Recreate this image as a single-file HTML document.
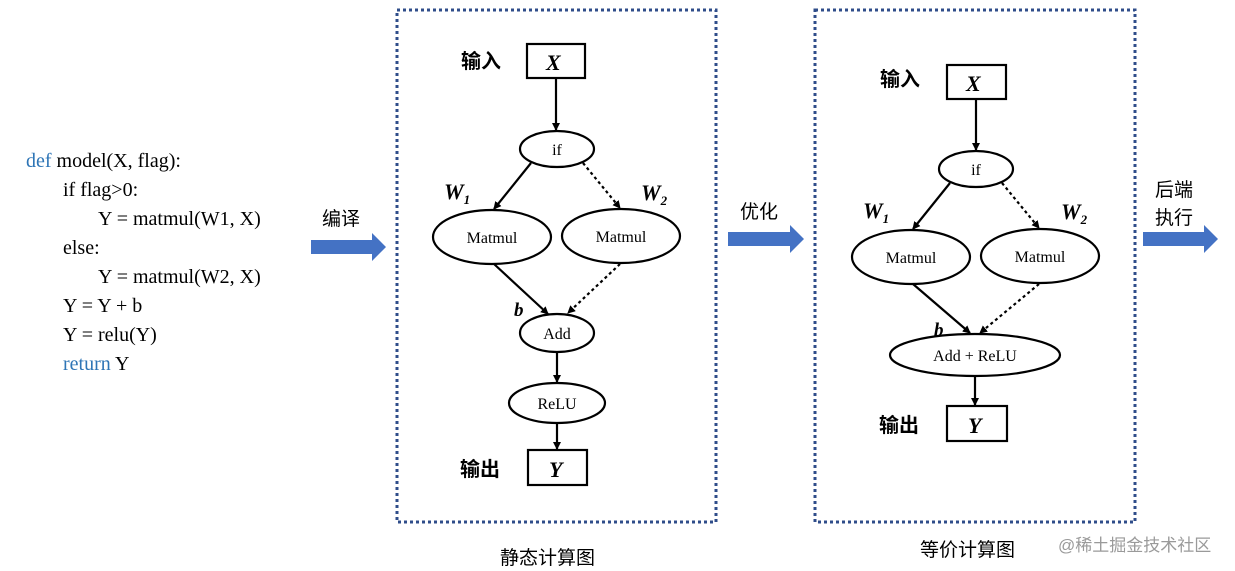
<!DOCTYPE html>
<html><head><meta charset="utf-8"><style>
html,body{margin:0;padding:0;background:#fff;}
svg{display:block;}
.c{font-family:"Liberation Serif",serif;font-size:20px;fill:#000;}
.k{fill:#2e75b6;}
.zh{font-family:"Liberation Sans","Noto Sans CJK SC",sans-serif;font-size:20px;font-weight:bold;fill:#000;}
.zn{font-family:"Liberation Sans","Noto Sans CJK SC",sans-serif;font-size:19px;fill:#000;}
.n{font-family:"Liberation Serif",serif;font-size:16px;fill:#000;text-anchor:middle;}
.w{font-family:"Liberation Serif",serif;font-size:22px;font-weight:bold;font-style:italic;fill:#000;}
.s{font-family:"Liberation Serif",serif;font-size:13px;font-weight:bold;font-style:italic;}
</style></head><body>
<svg width="1235" height="571" viewBox="0 0 1235 571" xmlns="http://www.w3.org/2000/svg">
<defs>
<marker id="a" markerWidth="8" markerHeight="8" refX="7" refY="4" orient="auto" markerUnits="userSpaceOnUse"><path d="M0,0 L8,4 L0,8 z" fill="#000"/></marker>
</defs>
<!-- code -->
<text class="c" x="26" y="167"><tspan class="k">def</tspan> model(X, flag):</text>
<text class="c" x="63" y="196">if flag&gt;0:</text>
<text class="c" x="98" y="225">Y = matmul(W1, X)</text>
<text class="c" x="63" y="254">else:</text>
<text class="c" x="98" y="283">Y = matmul(W2, X)</text>
<text class="c" x="63" y="312">Y = Y + b</text>
<text class="c" x="63" y="341">Y = relu(Y)</text>
<text class="c" x="63" y="370"><tspan class="k">return</tspan> Y</text>
<!-- blue arrows -->
<g fill="#4472c4">
<path d="M311,240 H372 V233 L386,247 L372,261 V254 H311 z"/>
<path d="M728,232 H790 V225 L804,239 L790,253 V246 H728 z"/>
<path d="M1143,232 H1204 V225 L1218,239 L1204,253 V246 H1143 z"/>
</g>
<text class="zn" x="322" y="225">编译</text>
<text class="zn" x="740" y="218">优化</text>
<text class="zn" x="1155" y="196">后端</text>
<text class="zn" x="1155" y="224">执行</text>
<!-- boxes -->
<rect x="397" y="10" width="319" height="512" fill="none" stroke="#2f4d8a" stroke-width="3" stroke-dasharray="3,3"/>
<rect x="815" y="10" width="320" height="512" fill="none" stroke="#2f4d8a" stroke-width="3" stroke-dasharray="3,3"/>
<!-- static graph -->
<g stroke="#000" stroke-width="2.2" fill="none">
<rect x="527" y="44" width="58" height="34"/>
<ellipse cx="557" cy="149" rx="37" ry="18"/>
<ellipse cx="492" cy="237" rx="59" ry="27"/>
<ellipse cx="621" cy="236" rx="59" ry="27"/>
<ellipse cx="557" cy="333" rx="37" ry="19"/>
<ellipse cx="557" cy="403" rx="48" ry="20"/>
<rect x="528" y="450" width="59" height="35"/>
<line x1="556" y1="78" x2="556" y2="130" marker-end="url(#a)"/>
<line x1="531" y1="163" x2="494" y2="209" marker-end="url(#a)"/>
<line x1="583" y1="163" x2="620" y2="208" stroke-dasharray="3,3" marker-end="url(#a)"/>
<line x1="494" y1="264" x2="548" y2="314" marker-end="url(#a)"/>
<line x1="620" y1="264" x2="568" y2="313" stroke-dasharray="3,3" marker-end="url(#a)"/>
<line x1="557" y1="352" x2="557" y2="382" marker-end="url(#a)"/>
<line x1="557" y1="423" x2="557" y2="449" marker-end="url(#a)"/>
</g>
<text class="zh" x="461" y="68">输入</text>
<text class="w" x="546" y="70">X</text>
<text class="n" x="557" y="155">if</text>
<text class="w" x="444" y="199">W<tspan class="s" dy="5">1</tspan></text>
<text class="w" x="641" y="200">W<tspan class="s" dy="5">2</tspan></text>
<text class="n" x="492" y="243">Matmul</text>
<text class="n" x="621" y="242">Matmul</text>
<text class="w" x="514" y="316" style="font-size:19px">b</text>
<text class="n" x="557" y="339">Add</text>
<text class="n" x="557" y="409">ReLU</text>
<text class="zh" x="460" y="476">输出</text>
<text class="w" x="549" y="477">Y</text>
<!-- optimized graph -->
<g stroke="#000" stroke-width="2.2" fill="none">
<rect x="947" y="65" width="59" height="34"/>
<ellipse cx="976" cy="169" rx="37" ry="18"/>
<ellipse cx="911" cy="257" rx="59" ry="27"/>
<ellipse cx="1040" cy="256" rx="59" ry="27"/>
<ellipse cx="975" cy="355" rx="85" ry="21"/>
<rect x="947" y="406" width="60" height="35"/>
<line x1="976" y1="99" x2="976" y2="150" marker-end="url(#a)"/>
<line x1="950" y1="183" x2="913" y2="229" marker-end="url(#a)"/>
<line x1="1002" y1="183" x2="1039" y2="228" stroke-dasharray="3,3" marker-end="url(#a)"/>
<line x1="913" y1="284" x2="970" y2="333" marker-end="url(#a)"/>
<line x1="1039" y1="284" x2="980" y2="333" stroke-dasharray="3,3" marker-end="url(#a)"/>
<line x1="975" y1="376" x2="975" y2="405" marker-end="url(#a)"/>
</g>
<text class="zh" x="880" y="86">输入</text>
<text class="w" x="966" y="91">X</text>
<text class="n" x="976" y="175">if</text>
<text class="w" x="863" y="218">W<tspan class="s" dy="5">1</tspan></text>
<text class="w" x="1061" y="219">W<tspan class="s" dy="5">2</tspan></text>
<text class="n" x="911" y="263">Matmul</text>
<text class="n" x="1040" y="262">Matmul</text>
<text class="w" x="934" y="336" style="font-size:19px">b</text>
<text class="n" x="975" y="361">Add + ReLU</text>
<text class="zh" x="879" y="432">输出</text>
<text class="w" x="968" y="433">Y</text>
<!-- captions -->
<text class="zn" x="500" y="564">静态计算图</text>
<text class="zn" x="920" y="556">等价计算图</text>
<text x="1058" y="551" style="font-family:'Liberation Sans','Noto Sans CJK SC',sans-serif;font-size:17px;fill:#9a9a9a">@稀土掘金技术社区</text>
</svg>
</body></html>
